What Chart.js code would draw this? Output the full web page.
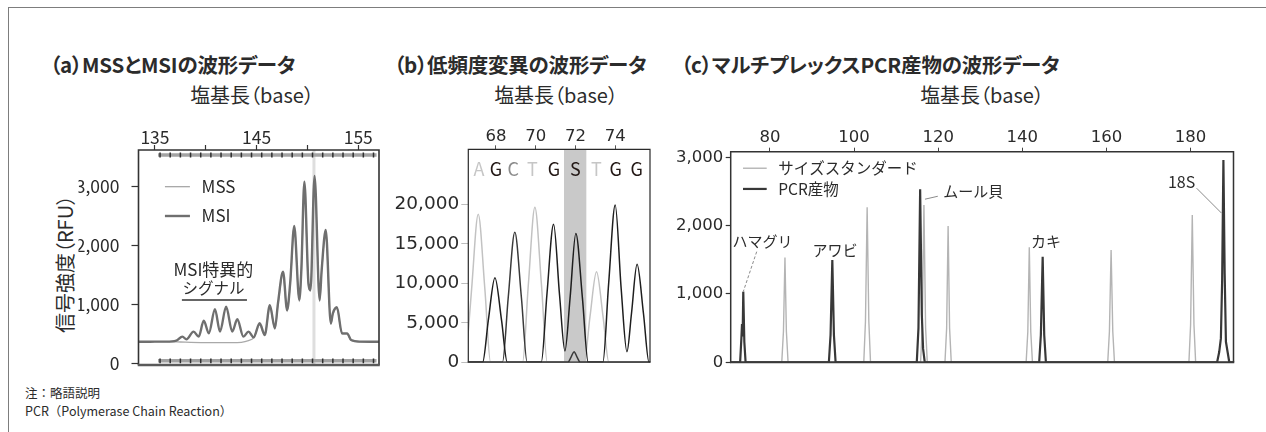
<!DOCTYPE html>
<html lang="ja">
<head>
<meta charset="utf-8">
<title>波形データ</title>
<script src="https://cdn.jsdelivr.net/npm/chart.js@4.4.1/dist/chart.umd.min.js"></script>
<style>
  html, body { margin: 0; padding: 0; background: #fff; }
  #page {
    position: relative; width: 1266px; height: 432px; overflow: hidden; background: #fff;
    font-family: "Noto Sans CJK JP", "Noto Sans", sans-serif; color: #2b2b2b;
  }
  #page canvas { position: absolute; left: 0; top: 0; }
  .rule-top  { position: absolute; left: 8px; top: 7px; width: 1258px; border-top: 1.5px solid #7d7d7d; }
  .rule-left { position: absolute; left: 8px; top: 7px; height: 425px; border-left: 1.5px solid #7d7d7d; }
  .panel-title { position: absolute; font-weight: 700; font-size: 20.5px; line-height: 1; white-space: nowrap; transform: translateY(-50%); letter-spacing: -0.2px; font-feature-settings: "palt"; }
  .axis-title { position: absolute; font-size: 20px; line-height: 1; white-space: nowrap; transform: translate(-50%, -50%); font-feature-settings: "palt"; }
  .axis-title.vertical { transform: translate(-50%, -50%) rotate(-90deg); }
  .footnote { position: absolute; left: 25px; font-size: 12.5px; line-height: 1; white-space: nowrap; transform: translateY(-50%); }
</style>
</head>
<body>
<div id="page">
  <div class="rule-top"></div>
  <div class="rule-left"></div>

  <div class="panel-title" style="left:50px; top:64px;">（a）MSSとMSIの波形データ</div>
  <div class="panel-title" style="left:394px; top:64px;">（b）低頻度変異の波形データ</div>
  <div class="panel-title" style="left:681px; top:64px;">（c）マルチプレックスPCR産物の波形データ</div>

  <div class="axis-title" style="left:252px; top:95px;">塩基長（base）</div>
  <div class="axis-title" style="left:556px; top:95px;">塩基長（base）</div>
  <div class="axis-title" style="left:982px; top:95px;">塩基長（base）</div>
  <div class="axis-title vertical" style="left:65px; top:264px;">信号強度（RFU）</div>

  <div class="footnote" style="top:393px;">注：略語説明</div>
  <div class="footnote" style="top:411px;">PCR（Polymerase Chain Reaction）</div>
</div>

<script>
// ---------------- (a) MSS / MSI fragment analysis ----------------
const aTickValues = [135, 140, 145, 150, 155];
const aTickLabels = ['135', '', '145', '', '155'];
const aYTicks = [0, 1000, 2000, 3000];
const aSeriesNames = ['MSS', 'MSI'];
const msiTrace = [
  [133.38, 366], [134.0, 366], [135.0, 368], [136.1, 368], [137.1, 385], [137.7, 453], [138.1, 407],
  [138.8, 538], [139.3, 453], [139.8, 724], [140.3, 509], [140.9, 917], [141.4, 538], [142.0, 962],
  [142.6, 538], [143.1, 747], [143.7, 453], [144.2, 538], [144.7, 441], [145.3, 679], [145.8, 481],
  [146.3, 985], [146.8, 594], [147.1, 1019], [147.6, 1556], [148.0, 905], [148.3, 1358], [148.7, 2332],
  [149.2, 1075], [149.4, 1585], [149.7, 3084], [150.1, 1358], [150.3, 1245], [150.7, 3181], [151.2, 1075],
  [151.4, 1585], [151.8, 2264], [152.3, 679], [152.5, 849], [152.9, 951], [153.4, 509], [153.9, 509],
  [154.3, 396], [155.2, 368], [156.2, 366], [157.04, 366]
];
const mssTrace = [
  [133.38, 368], [136.0, 368], [137.5, 362], [138.5, 356], [139.5, 352], [140.5, 350], [141.5, 352],
  [142.5, 350], [143.5, 356], [144.2, 385], [144.7, 430], [145.3, 650], [145.8, 470], [146.3, 955],
  [146.8, 580], [147.1, 990], [147.6, 1515], [148.0, 880], [148.3, 1330], [148.7, 2285], [149.2, 1050],
  [149.4, 1550], [149.7, 3035], [150.1, 1330], [150.3, 1220], [150.7, 3145], [151.2, 1050], [151.4, 1560],
  [151.8, 2225], [152.3, 660], [152.5, 830], [152.9, 930], [153.4, 500], [153.9, 495], [154.3, 390],
  [155.2, 366], [157.04, 366]
];
const aBinMarks = [135.5, 136.5, 137.5, 138.5, 139.5, 140.5, 141.5, 142.5, 143.5, 144.5, 145.5,
                   146.5, 147.5, 148.5, 149.5, 150.5, 151.5, 152.5, 153.5, 154.5, 155.5, 156.5];
const aBinSpan = [135.3, 156.8];
const aBinLevels = [3538, 42];
const aHighlightBase = 150.64;
const aSignalSpan = [137.65, 144.05];

// ---------------- (b) low-frequency variant, sequencing trace ----------------
const bTickValues = [68, 70, 72, 74];
const bYTicks = [0, 5000, 10000, 15000, 20000];
const bCalls = ['A', 'G', 'C', 'T', 'G', 'S', 'T', 'G', 'G'];
const bCallPositions = [67.15, 68.0, 68.87, 69.83, 70.92, 72.0, 73.05, 74.02, 75.08];
const bMixedSpan = [71.42, 72.56];
const traceA = [[66.49, 0], [66.78, 9360], [67.11, 18720], [67.44, 9360], [67.73, 0], [75.75, 0]];
const traceT = [[66.61, 0], [69.34, 0], [69.63, 9800], [69.96, 19600], [70.29, 9800], [70.58, 0],
                [72.44, 0], [72.73, 5730], [73.06, 11460], [73.39, 5730], [73.68, 0], [75.75, 0]];
const traceG = [[66.61, 0], [67.33, 0], [67.62, 5350], [67.95, 10700], [68.28, 5350], [68.57, 0],
                [70.28, 0], [70.57, 8725], [70.9, 17450], [71.2, 8500], [71.47, 1420], [71.73, 8150],
                [72.02, 16300], [72.35, 8150], [72.64, 0], [73.38, 0], [73.67, 9950], [74.0, 19900],
                [74.3, 9300], [74.59, 1330], [74.82, 6200], [75.1, 12390], [75.42, 6200], [75.7, 0], [75.75, 0]];
const traceC = [[66.61, 0], [68.33, 0], [68.62, 8220], [68.95, 16440], [69.28, 8220], [69.57, 0],
                [71.62, 0], [71.78, 650], [71.93, 1330], [72.08, 650], [72.24, 0], [75.75, 0]];

// ---------------- (c) multiplex PCR products ----------------
const cTickValues = [80, 100, 120, 140, 160, 180];
const cYTicks = [0, 1000, 2000, 3000];
const cSeriesNames = ['サイズスタンダード', 'PCR産物'];
const cPeakNames = ['ハマグリ', 'アワビ', 'ムール貝', 'カキ', '18S'];
const sizeStandardTrace = [
  [70.66, 0], [82.8, 0], [83.2, 450], [83.56, 1532], [83.9, 450], [84.3, 0],
  [102.3, 0], [102.7, 600], [103.1, 2269], [103.5, 600], [103.9, 0],
  [115.8, 0], [116.2, 500], [116.6, 2303], [117.0, 500], [117.4, 0],
  [121.6, 0], [122.0, 500], [122.35, 1996], [122.7, 500], [123.1, 0],
  [140.9, 0], [141.3, 450], [141.65, 1684], [142.0, 450], [142.4, 0],
  [160.3, 0], [160.7, 450], [161.1, 1644], [161.5, 450], [161.9, 0],
  [179.6, 0], [180.0, 550], [180.4, 2157], [180.8, 550], [181.2, 0], [190.2, 0]
];
const pcrProductTrace = [
  [70.66, 0], [72.9, 0], [73.2, 350], [73.35, 560], [73.5, 380], [73.65, 1034], [73.9, 300], [74.2, 0],
  [94.0, 0], [94.4, 400], [94.82, 1498], [95.2, 400], [95.6, 0],
  [114.9, 0], [115.3, 500], [115.7, 2533], [116.1, 700], [116.4, 200], [116.8, 0],
  [144.0, 0], [144.4, 400], [144.83, 1546], [145.2, 400], [145.6, 0],
  [186.3, 0], [186.8, 150], [187.2, 350], [187.5, 1200], [187.8, 2961], [188.1, 1300], [188.4, 300],
  [188.8, 150], [189.2, 0], [190.2, 0]
];

// ---------------- helpers ----------------
const W = 1266, H = 432;
const JP = '"Noto Sans CJK JP", "Noto Sans", sans-serif';
const WIDE = '"DejaVu Sans", "Noto Sans", sans-serif';
const INK = '#2b2b2b';

function makeCanvas() {
  const c = document.createElement('canvas');
  c.width = W; c.height = H;
  document.getElementById('page').appendChild(c);
  return c;
}

// Fixed axis sizes so the plot box lands exactly where wanted.
function plotArea(l, t, r, b, yW, xH) {
  return {
    padding: { left: l - yW, top: t - xH, right: W - r, bottom: H - b },
    fitY: s => { s.width = yW; },
    fitX: s => { s.height = xH; }
  };
}

const thousands = v => Number(v).toLocaleString('en-US');

// Box around the plotting area.
const framePlugin = {
  id: 'frame',
  afterDatasetsDraw(chart, args, o) {
    const { ctx, chartArea: a } = chart;
    ctx.save();
    ctx.strokeStyle = o.color; ctx.lineWidth = o.width;
    ctx.beginPath();
    ctx.moveTo(a.left, a.bottom); ctx.lineTo(a.left, a.top); ctx.lineTo(a.right, a.top); ctx.lineTo(a.right, a.bottom);
    ctx.stroke();
    ctx.strokeStyle = o.bottomColor || o.color; ctx.lineWidth = o.bottomWidth || o.width;
    ctx.beginPath(); ctx.moveTo(a.left - o.width / 2, a.bottom); ctx.lineTo(a.right + o.width / 2, a.bottom); ctx.stroke();
    ctx.restore();
  }
};

// Legend keys, text labels and leader lines, placed in data coordinates.
const notesPlugin = {
  id: 'notes',
  afterDraw(chart, args, o) {
    const { ctx, scales: { x, y } } = chart;
    const px = v => x.getPixelForValue(v), py = v => y.getPixelForValue(v);
    ctx.save();
    (o.leaders || []).forEach(l => {
      ctx.strokeStyle = l.color; ctx.lineWidth = l.width;
      ctx.setLineDash(l.dash || []);
      ctx.beginPath(); ctx.moveTo(px(l.from[0]), py(l.from[1])); ctx.lineTo(px(l.to[0]), py(l.to[1])); ctx.stroke();
    });
    ctx.setLineDash([]);
    (o.keys || []).forEach(k => {
      const ds = chart.data.datasets[k.dataset];
      ctx.strokeStyle = ds.borderColor; ctx.lineWidth = ds.borderWidth;
      ctx.beginPath(); ctx.moveTo(px(k.from), py(k.at)); ctx.lineTo(px(k.to), py(k.at)); ctx.stroke();
      ctx.fillStyle = INK; ctx.font = k.font; ctx.textAlign = 'left'; ctx.textBaseline = 'middle';
      ctx.fillText(ds.label, px(k.textAt), py(k.at));
    });
    (o.labels || []).forEach(t => {
      ctx.fillStyle = t.color || INK; ctx.font = t.font;
      ctx.textAlign = t.align || 'center'; ctx.textBaseline = 'middle';
      ctx.fillText(t.text, px(t.x), py(t.y));
    });
    ctx.restore();
  }
};

function baseOptions(area, xScale, yScale, plugins) {
  xScale.afterFit = area.fitX;
  yScale.afterFit = area.fitY;
  return {
    responsive: false, animation: false, events: [],
    layout: { padding: area.padding },
    elements: { point: { radius: 0 }, line: { fill: false } },
    scales: { x: xScale, y: yScale },
    plugins: Object.assign({ legend: { display: false }, tooltip: { enabled: false } }, plugins)
  };
}

function line(label, data, color, width, extra) {
  return Object.assign({ label, data, borderColor: color, borderWidth: width, pointRadius: 0,
                         cubicInterpolationMode: 'monotone', fill: false }, extra || {});
}

// ---------------- chart (a) ----------------
(function () {
  const area = plotArea(138.5, 150, 379, 365, 60, 40);
  const marks = lvl => aBinMarks.map(b => [b, lvl]);
  const markStyle = { showLine: false, pointRadius: 2.4, pointStyle: 'line', pointRotation: 90,
                      pointBorderColor: '#2e2e2e', pointBorderWidth: 1.5 };
  new Chart(makeCanvas(), {
    type: 'line',
    data: {
      datasets: [
        line(aSeriesNames[1], msiTrace, '#6f6f6f', 2.4),
        line(aSeriesNames[0], mssTrace, '#a9a9a9', 1.3),
        line('bins-top', marks(aBinLevels[0]), '#2e2e2e', 1, markStyle),
        line('bins-bottom', marks(aBinLevels[1]), '#2e2e2e', 1, markStyle),
        line('strip-top', aBinSpan.map(b => [b, aBinLevels[0]]), '#a3a3a3', 3.5, { cubicInterpolationMode: 'default' }),
        line('strip-bottom', aBinSpan.map(b => [b, aBinLevels[1]]), '#a3a3a3', 3.5, { cubicInterpolationMode: 'default' }),
        line('highlight', [[aHighlightBase, -29], [aHighlightBase, 3623]], '#dedede', 3, { cubicInterpolationMode: 'default' })
      ]
    },
    options: baseOptions(area,
      { type: 'linear', position: 'top', min: 133.38, max: 157.04,
        afterBuildTicks: s => { s.ticks = aTickValues.map(v => ({ value: v })); },
        ticks: { autoSkip: false, maxRotation: 0, color: INK, padding: -1,
                 font: { family: JP, size: 17.5, lineHeight: 1 },
                 callback: (v, i) => aTickLabels[i] },
        grid: { drawOnChartArea: false, tickLength: 5, tickColor: '#333', tickWidth: 1.2 },
        border: { display: false } },
      { type: 'linear', min: -29, max: 3623,
        afterBuildTicks: s => { s.ticks = aYTicks.map(v => ({ value: v })); },
        ticks: { color: INK, padding: 12, font: { family: JP, size: 17.5 }, callback: thousands },
        grid: { drawOnChartArea: false, tickLength: 7, tickColor: '#333', tickWidth: 1.2 },
        border: { display: false } },
      {
        frame: { color: '#333', width: 1.6, bottomColor: '#5a5a5a', bottomWidth: 2.6 },
        notes: {
          keys: [
            { dataset: 1, from: 135.98, to: 138.44, at: 3000, textAt: 139.59, font: `17px ${JP}` },
            { dataset: 0, from: 135.98, to: 138.44, at: 2502, textAt: 139.59, font: `17px ${JP}` }
          ],
          leaders: [ { from: [aSignalSpan[0], 1075], to: [aSignalSpan[1], 1075], color: '#333', width: 1.3 } ],
          labels: [
            { text: 'MSI特異的', x: 140.75, y: 1590, font: `17px ${JP}` },
            { text: 'シグナル', x: 140.75, y: 1278, font: `15.5px ${JP}` }
          ]
        }
      }),
    plugins: [framePlugin, notesPlugin]
  });
})();

// ---------------- chart (b) ----------------
(function () {
  const area = plotArea(468.3, 149.3, 650, 362.2, 75, 40);
  const callColor = { A: '#c6c6c6', T: '#c6c6c6', C: '#8c8c8c', G: '#231815', S: '#231815' };
  new Chart(makeCanvas(), {
    type: 'line',
    data: {
      datasets: [
        line('G', traceG, '#1e1e1e', 1.5),
        line('C', traceC, '#3a3a3a', 1.5),
        line('T', traceT, '#c2c2c2', 1.5),
        line('A', traceA, '#c2c2c2', 1.5),
        line('mixed', bMixedSpan.map(b => [b, 26950]), 'rgba(0,0,0,0)', 0,
             { fill: 'start', backgroundColor: '#c9c9c9', cubicInterpolationMode: 'default' })
      ]
    },
    options: baseOptions(area,
      { type: 'linear', position: 'top', min: 66.61, max: 75.75,
        afterBuildTicks: s => { s.ticks = bTickValues.map(v => ({ value: v })); },
        ticks: { autoSkip: false, maxRotation: 0, color: INK, padding: 0,
                 font: { family: WIDE, size: 16.5, lineHeight: 1 } },
        grid: { drawOnChartArea: false, tickLength: 4, tickColor: '#555', tickWidth: 1 },
        border: { display: false } },
      { type: 'linear', min: 0, max: 26950,
        afterBuildTicks: s => { s.ticks = bYTicks.map(v => ({ value: v })); },
        ticks: { color: INK, padding: 2, font: { family: WIDE, size: 18.5 }, callback: thousands },
        grid: { drawOnChartArea: false, tickLength: 7, tickColor: '#bdbdbd', tickWidth: 1 },
        border: { display: false } },
      {
        frame: { color: '#2a2a2a', width: 1.2 },
        notes: {
          labels: bCalls.map((c, i) => ({ text: c, x: bCallPositions[i], y: 24450,
                                         color: callColor[c], font: `18px ${JP}` }))
        }
      }),
    plugins: [framePlugin, notesPlugin]
  });
})();

// ---------------- chart (c) ----------------
(function () {
  const area = plotArea(730.7, 151.7, 1233.5, 362.3, 70, 40);
  const f15 = `15px ${JP}`;
  new Chart(makeCanvas(), {
    type: 'line',
    data: {
      datasets: [
        line(cSeriesNames[1], pcrProductTrace, '#383838', 2.2, { cubicInterpolationMode: 'default', tension: 0 }),
        line(cSeriesNames[0], sizeStandardTrace, '#b4b4b4', 1.4, { cubicInterpolationMode: 'default', tension: 0 })
      ]
    },
    options: baseOptions(area,
      { type: 'linear', position: 'top', min: 70.66, max: 190.2,
        afterBuildTicks: s => { s.ticks = cTickValues.map(v => ({ value: v })); },
        ticks: { autoSkip: false, maxRotation: 0, color: INK, padding: 1.7,
                 font: { family: WIDE, size: 16.5, lineHeight: 1 } },
        grid: { drawOnChartArea: false, tickLength: 4, tickColor: '#444', tickWidth: 1 },
        border: { display: false } },
      { type: 'linear', min: 0, max: 3082,
        afterBuildTicks: s => { s.ticks = cYTicks.map(v => ({ value: v })); },
        ticks: { color: INK, padding: 2.4, font: { family: WIDE, size: 16.5 }, callback: thousands },
        grid: { drawOnChartArea: false, tickLength: 5, tickColor: '#333', tickWidth: 1.2 },
        border: { display: false } },
      {
        frame: { color: '#333', width: 1.5, bottomColor: '#3a3a3a', bottomWidth: 2 },
        notes: {
          keys: [
            { dataset: 1, from: 73.59, to: 79.22, at: 2840, textAt: 81.97, font: `15.5px ${JP}` },
            { dataset: 0, from: 73.59, to: 79.22, at: 2537, textAt: 81.97, font: `15.5px ${JP}` }
          ],
          leaders: [
            { from: [76.84, 1619], to: [73.65, 1034], color: '#8a8a8a', width: 1, dash: [3, 2] },
            { from: [116.85, 2387], to: [119.9, 2430], color: '#8a8a8a', width: 1 },
            { from: [181.43, 2548], to: [187.37, 2182], color: '#8a8a8a', width: 1 }
          ],
          labels: [
            { text: cPeakNames[0], x: 78.22, y: 1766, font: f15 },
            { text: cPeakNames[1], x: 95.45, y: 1644, font: f15 },
            { text: cPeakNames[2], x: 121.2, y: 2498, font: f15, align: 'left' },
            { text: cPeakNames[3], x: 145.6, y: 1766, font: f15 },
            { text: cPeakNames[4], x: 177.86, y: 2644, font: `16px ${JP}` }
          ]
        }
      }),
    plugins: [framePlugin, notesPlugin]
  });
})();
</script>
</body>
</html>
